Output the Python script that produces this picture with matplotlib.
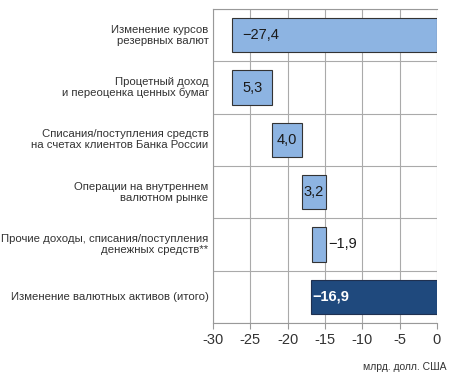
import numpy as np
import matplotlib.pyplot as plt

plt.rcParams['font.family'] = ['Liberation Sans', 'DejaVu Sans']

# категории и значения (млрд. долл. США)
categories = ["Изменение курсов\nрезервных валют",
              "Процетный доход\nи переоценка ценных бумаг",
              "Списания/поступления средств\nна счетах клиентов Банка России",
              "Операции на внутреннем\nвалютном рынке",
              "Прочие доходы, списания/поступления\nденежных средств**",
              "Изменение валютных активов (итого)"]
changes = [-27.4, 5.3, 4.0, 3.2, -1.9]
total = -16.9
value_labels = ["\u221227,4", "5,3", "4,0", "3,2", "\u22121,9", "\u221216,9"]

fig = plt.figure(figsize=(4.52, 3.76), dpi=100)
ax = fig.add_axes([213/452, 1-323/376, 224/452, 314/376])

y = np.arange(len(categories))
# waterfall: start/end of each step
starts = np.concatenate([[0], np.cumsum(changes)[:-1]])
ends = np.cumsum(changes)
lefts = np.minimum(starts, ends)
widths = np.abs(np.array(changes))

ax.barh(y[:-1], widths, left=lefts, height=0.65, color='#8db4e2',
        edgecolor='#333333', linewidth=0.8, zorder=3)
ax.barh(y[-1], abs(total), left=total, height=0.65, color='#1f497d',
        edgecolor='#1f3050', linewidth=0.8, zorder=3)

# подписи значений
ax.text(lefts[0] + 1.3, y[0], value_labels[0], va='center', ha='left',
        fontsize=10.5, color='#1a1a1a', zorder=4)
for i in (1, 2, 3):
    ax.text(lefts[i] + widths[i] / 2, y[i], value_labels[i], va='center',
            ha='center', fontsize=10.5, color='#1a1a1a', zorder=4)
ax.text(lefts[4] + widths[4] + 0.3, y[4], value_labels[4], va='center',
        ha='left', fontsize=10.5, color='#1a1a1a', zorder=4)
ax.text(total + 0.2, y[5], value_labels[5], va='center', ha='left',
        fontsize=10.5, color='white', fontweight='bold', zorder=4)

ax.set_xlim(-30, 0)
ax.set_ylim(len(categories) - 0.5, -0.5)
ax.set_xticks(np.arange(-30, 1, 5))
ax.set_xticklabels([str(v) for v in range(-30, 1, 5)], fontsize=10.5, color='#333333')
ax.set_yticks(np.arange(-0.5, len(categories), 1), minor=False)
ax.set_yticklabels([])
ax.tick_params(axis='y', length=0)
ax.tick_params(axis='x', length=4, color='#999999')
for i, c in enumerate(categories):
    ax.text(-30.6, i, c, ha='right', va='center', fontsize=8.2, color='#333333',
            linespacing=1.1)

ax.grid(True, color='#aaaaaa', linewidth=0.8, zorder=0)
ax.spines['right'].set_visible(False)
for s in ('left', 'bottom', 'top'):
    ax.spines[s].set_color('#999999')
    ax.spines[s].set_linewidth(0.8)

fig.text(447/452, 1-367/376, "млрд. долл. США", ha='right', va='center',
         fontsize=7.5, color='#333333')

fig.savefig("out.png", dpi=100)
